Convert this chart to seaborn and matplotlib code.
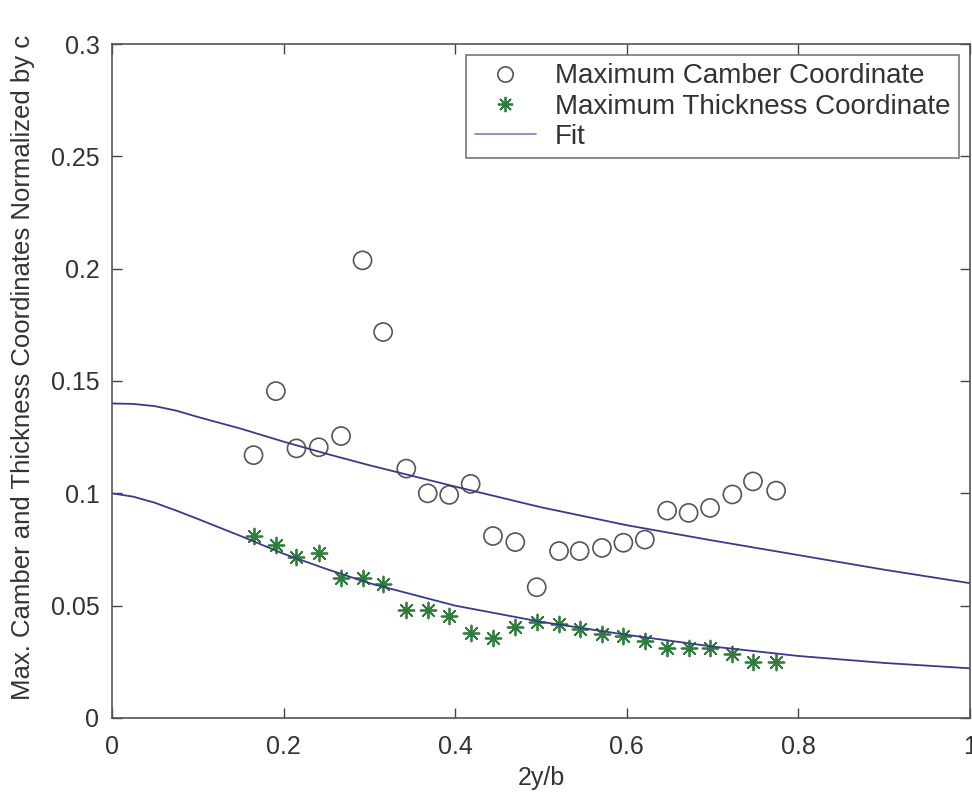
import numpy as np
import pandas as pd
import matplotlib
matplotlib.use("Agg")
import matplotlib.pyplot as plt
import seaborn as sns
from matplotlib.lines import Line2D

# spanwise station 2y/b of the measured sections
span = [0.165, 0.191, 0.215, 0.241, 0.267, 0.292, 0.316, 0.343, 0.368, 0.393,
        0.418, 0.444, 0.470, 0.495, 0.521, 0.545, 0.571, 0.596, 0.621, 0.647,
        0.672, 0.697, 0.723, 0.747, 0.774]
camber = [0.117, 0.1455, 0.120, 0.1205, 0.1255, 0.2037, 0.1718, 0.111, 0.100, 0.0993,
          0.1042, 0.081, 0.0783, 0.0582, 0.0743, 0.0743, 0.0757, 0.078, 0.0794, 0.0923,
          0.0913, 0.0935, 0.0995, 0.1053, 0.1012]
thickness = [0.0812, 0.0771, 0.0716, 0.0735, 0.0624, 0.0624, 0.0597, 0.0482, 0.0482, 0.0453,
             0.0377, 0.0355, 0.0404, 0.0429, 0.0419, 0.0396, 0.0374, 0.0367, 0.0344, 0.031,
             0.031, 0.031, 0.0285, 0.0248, 0.0251]

# fit curves
fit_x = [0.0, 0.025, 0.05, 0.075, 0.1, 0.15, 0.2, 0.25, 0.3, 0.4, 0.5, 0.6, 0.7, 0.8, 0.9, 1.0]
fit_camber = [0.140, 0.1398, 0.1388, 0.1368, 0.134, 0.1288, 0.123, 0.1176, 0.1125, 0.103,
              0.0938, 0.0858, 0.079, 0.0725, 0.066, 0.060]
fit_thickness = [0.100, 0.0985, 0.0958, 0.0923, 0.0886, 0.081, 0.0731, 0.0663, 0.060, 0.050,
                 0.0428, 0.0370, 0.0318, 0.0276, 0.0245, 0.0221]

pts = pd.DataFrame({"span": span, "camber": camber, "thickness": thickness})
fit = pd.DataFrame({"x": fit_x, "camber": fit_camber, "thickness": fit_thickness})

sns.set_style("white")
plt.rcParams['font.family'] = ['Liberation Sans', 'DejaVu Sans']

fig = plt.figure(figsize=(9.72, 7.93), dpi=100)
ax = fig.add_axes([0.1152, 0.0946, 0.8828, 0.8499])

line_col = "#3a3a8c"
sns.lineplot(data=fit, x="x", y="camber", color=line_col, lw=1.3, ax=ax)
sns.lineplot(data=fit, x="x", y="thickness", color=line_col, lw=1.3, ax=ax)

sns.scatterplot(data=pts, x="span", y="camber", marker="o", s=170,
                facecolor="none", edgecolor="#555555", linewidth=1.2, ax=ax)
sns.scatterplot(data=pts, x="span", y="thickness", marker=(8, 2, 0), s=130,
                color="#2f7d3a", edgecolor="#2f7d3a", linewidth=1.3, ax=ax)

ax.set_xlim(0, 1)
ax.set_ylim(0, 0.3)
ax.set_xticks([0, 0.2, 0.4, 0.6, 0.8, 1])
ax.set_xticklabels(["0", "0.2", "0.4", "0.6", "0.8", "1"])
ax.set_yticks([0, 0.05, 0.1, 0.15, 0.2, 0.25, 0.3])
ax.set_yticklabels(["0", "0.05", "0.1", "0.15", "0.2", "0.25", "0.3"])
ax.tick_params(direction="in", length=7, width=1, colors="#444444",
               labelcolor="#333333", labelsize=18, top=True, right=True,
               bottom=True, left=True)
ax.tick_params(axis="x", pad=12)
ax.tick_params(axis="y", pad=9)
for sp in ax.spines.values():
    sp.set_color("#555555")
    sp.set_linewidth(1.2)

ax.set_xlabel("2y/b", fontsize=18, color="#333333", labelpad=5)
ax.set_ylabel("Max. Camber and Thickness Coordinates Normalized by c",
              fontsize=18.5, color="#333333")
ax.yaxis.set_label_coords(-0.09, 0.52)

handles = [
    Line2D([], [], ls="none", marker="o", markersize=11, markerfacecolor="none",
           markeredgecolor="#555555", markeredgewidth=1.2),
    Line2D([], [], ls="none", marker=(8, 2, 0), markersize=11, color="#2f7d3a",
           markeredgewidth=1.3),
    Line2D([], [], color="#8888c0", lw=1.3),
]
labels = ["Maximum Camber Coordinate", "Maximum Thickness Coordinate", "Fit"]
leg = ax.legend(handles, labels, loc="upper right", fontsize=20, frameon=True,
                fancybox=False, edgecolor="#555555", handlelength=2.2,
                borderaxespad=0.4, labelspacing=0.15, handletextpad=0.7,
                borderpad=0.3)
leg.get_frame().set_linewidth(1.2)
for t in leg.get_texts():
    t.set_color("#333333")

fig.savefig("out.png", dpi=100)
